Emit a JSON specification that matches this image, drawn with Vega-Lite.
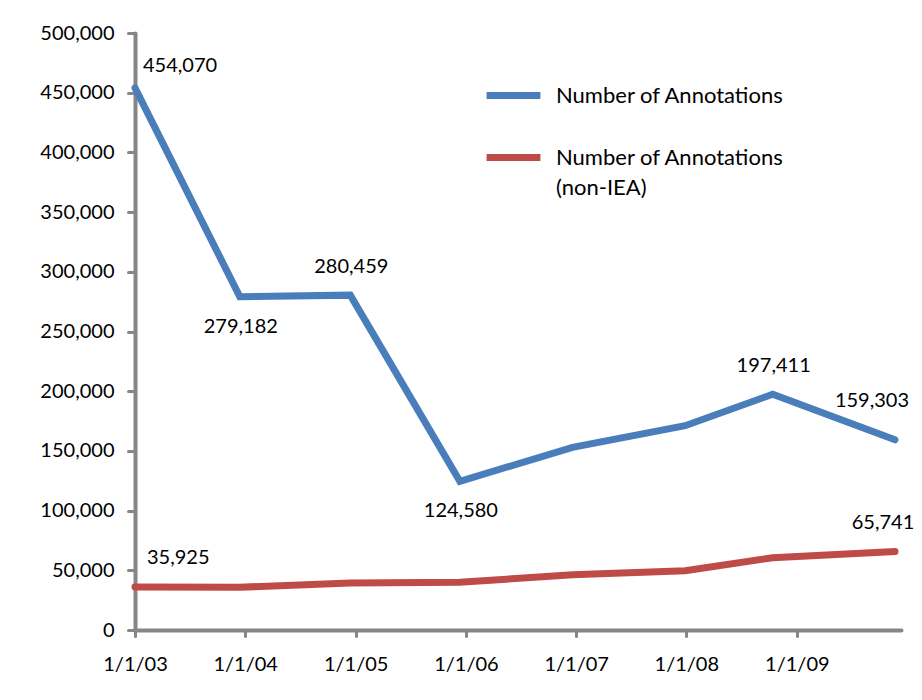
{
  "$schema": "https://vega.github.io/schema/vega-lite/v6.json",
  "width": 766,
  "height": 597,
  "autosize": {"type": "none"},
  "padding": {"left": 135, "top": 33, "right": 21, "bottom": 70},
  "background": "white",
  "config": {"view": {"stroke": null}, "font": "Lato"},
  "data": {
    "values": [
      {"date": "2003-01-01", "series": "Number of Annotations", "value": 454070},
      {"date": "2003-12-14", "series": "Number of Annotations", "value": 279182},
      {"date": "2004-12-14", "series": "Number of Annotations", "value": 280459},
      {"date": "2005-12-12", "series": "Number of Annotations", "value": 124580},
      {"date": "2006-12-20", "series": "Number of Annotations", "value": 152900},
      {"date": "2007-12-28", "series": "Number of Annotations", "value": 171100},
      {"date": "2008-10-13", "series": "Number of Annotations", "value": 197411},
      {"date": "2009-11-22", "series": "Number of Annotations", "value": 159303},
      {"date": "2003-01-01", "series": "Number of Annotations (non-IEA)", "value": 35925},
      {"date": "2003-12-14", "series": "Number of Annotations (non-IEA)", "value": 35800},
      {"date": "2004-12-14", "series": "Number of Annotations (non-IEA)", "value": 39400},
      {"date": "2005-12-12", "series": "Number of Annotations (non-IEA)", "value": 39900},
      {"date": "2006-12-20", "series": "Number of Annotations (non-IEA)", "value": 46300},
      {"date": "2007-12-28", "series": "Number of Annotations (non-IEA)", "value": 49700},
      {"date": "2008-10-13", "series": "Number of Annotations (non-IEA)", "value": 60500},
      {"date": "2009-11-22", "series": "Number of Annotations (non-IEA)", "value": 65741}
    ]
  },
  "encoding": {
    "x": {
      "field": "date",
      "type": "temporal",
      "scale": {
        "type": "utc",
        "domain": [
          {"year": 2003, "month": 1, "date": 1, "utc": true},
          {"year": 2009, "month": 12, "date": 12, "utc": true}
        ]
      },
      "axis": {
        "title": null,
        "values": [
          {"year": 2003, "month": 1, "date": 1, "utc": true},
          {"year": 2004, "month": 1, "date": 1, "utc": true},
          {"year": 2005, "month": 1, "date": 1, "utc": true},
          {"year": 2006, "month": 1, "date": 1, "utc": true},
          {"year": 2007, "month": 1, "date": 1, "utc": true},
          {"year": 2008, "month": 1, "date": 1, "utc": true},
          {"year": 2009, "month": 1, "date": 1, "utc": true}
        ],
        "labelExpr": "utcFormat(datum.value, '%-m/%-d/%y')",
        "grid": false,
        "domainColor": "#868686",
        "domainWidth": 4,
        "domainCap": "round",
        "tickColor": "#868686",
        "tickWidth": 3,
        "tickSize": 6,
        "tickCap": "round",
        "labelFontSize": 20,
        "labelColor": "black",
        "labelPadding": 18,
        "labelFlush": false,
        "labelOverlap": false
      }
    },
    "y": {
      "field": "value",
      "type": "quantitative",
      "scale": {"domain": [0, 500000], "nice": false},
      "axis": {
        "title": null,
        "values": [0, 50000, 100000, 150000, 200000, 250000, 300000, 350000, 400000, 450000, 500000],
        "format": ",d",
        "grid": false,
        "domainColor": "#868686",
        "domainWidth": 4,
        "domainCap": "round",
        "tickColor": "#868686",
        "tickWidth": 3,
        "tickSize": 7,
        "tickCap": "round",
        "labelFontSize": 20,
        "labelColor": "black",
        "labelPadding": 14,
        "labelOverlap": false
      }
    }
  },
  "layer": [
    {
      "mark": {"type": "line", "strokeWidth": 7, "strokeCap": "round", "strokeJoin": "miter"},
      "encoding": {
        "color": {
          "field": "series",
          "type": "nominal",
          "scale": {
            "domain": ["Number of Annotations", "Number of Annotations (non-IEA)"],
            "range": ["#4A7EBB", "#BE4B48"]
          },
          "legend": {
            "title": null,
            "orient": "none",
            "legendX": 348,
            "legendY": 32,
            "symbolType": "stroke",
            "symbolStrokeWidth": 7,
            "symbolSize": 2900,
            "labelFontSize": 22,
            "labelColor": "black",
            "labelOffset": 12,
            "labelLimit": 400,
            "rowPadding": 17,
            "labelExpr": "datum.label == 'Number of Annotations (non-IEA)' ? ['Number of Annotations', '(non-IEA)'] : datum.label",
            "encode": {"labels": {"update": {"lineHeight": {"value": 30}}}}
          }
        }
      }
    },
    {
      "transform": [{"filter": "datum.value == 454070"}],
      "mark": {"type": "text", "fontSize": 20, "align": "left", "dx": 8, "dy": -22, "color": "black"},
      "encoding": {"text": {"field": "value", "type": "quantitative", "format": ",d"}}
    },
    {
      "transform": [{"filter": "datum.value == 35925"}],
      "mark": {"type": "text", "fontSize": 20, "align": "left", "dx": 12, "dy": -29, "color": "black"},
      "encoding": {"text": {"field": "value", "type": "quantitative", "format": ",d"}}
    },
    {
      "transform": [{"filter": "datum.value == 279182 || datum.value == 124580"}],
      "mark": {"type": "text", "fontSize": 20, "align": "center", "dx": 1, "dy": 30, "color": "black"},
      "encoding": {"text": {"field": "value", "type": "quantitative", "format": ",d"}}
    },
    {
      "transform": [{"filter": "datum.value == 280459 || datum.value == 197411"}],
      "mark": {"type": "text", "fontSize": 20, "align": "center", "dx": 1, "dy": -28, "color": "black"},
      "encoding": {"text": {"field": "value", "type": "quantitative", "format": ",d"}}
    },
    {
      "transform": [{"filter": "datum.value == 159303"}],
      "mark": {"type": "text", "fontSize": 20, "align": "center", "dx": -23, "dy": -39, "color": "black"},
      "encoding": {"text": {"field": "value", "type": "quantitative", "format": ",d"}}
    },
    {
      "transform": [{"filter": "datum.value == 65741"}],
      "mark": {"type": "text", "fontSize": 20, "align": "center", "dx": -12, "dy": -29, "color": "black"},
      "encoding": {"text": {"field": "value", "type": "quantitative", "format": ",d"}}
    }
  ]
}
